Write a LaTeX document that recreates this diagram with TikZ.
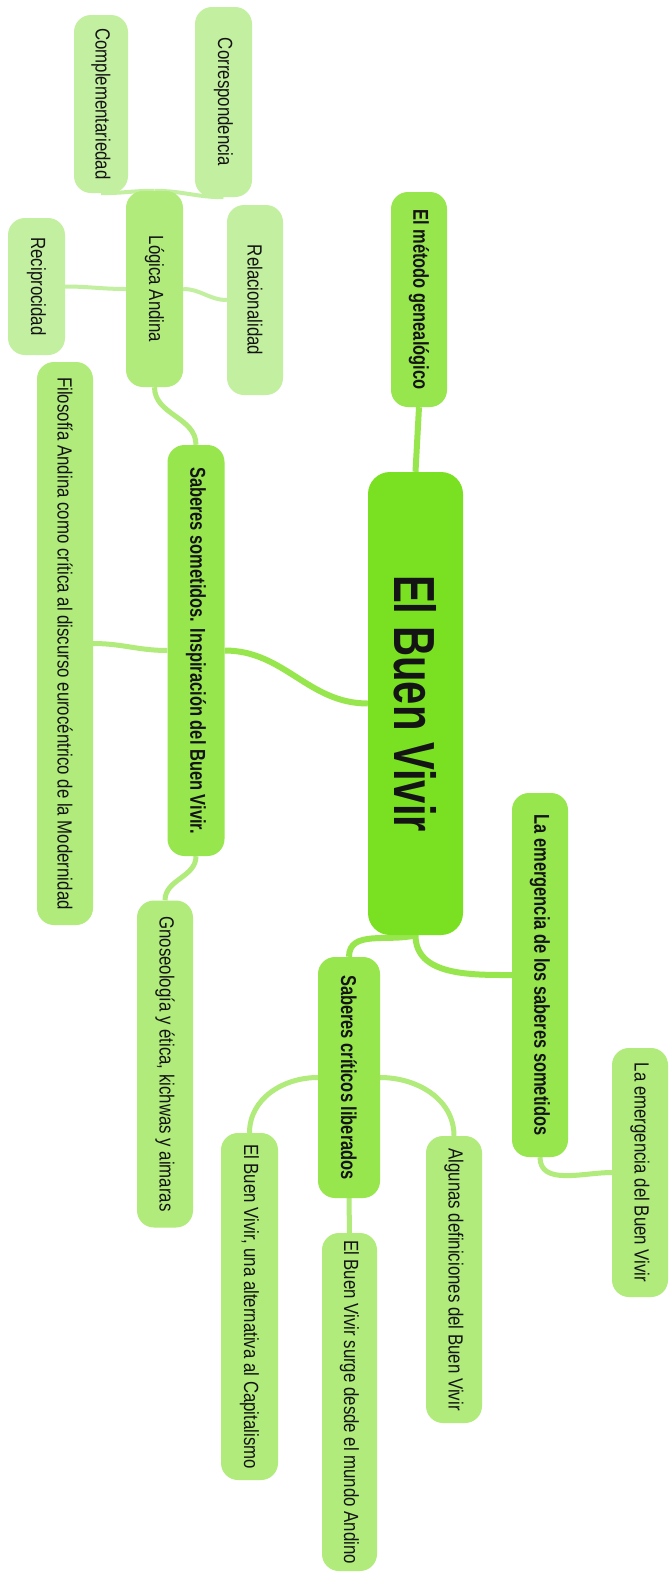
\documentclass[tikz,border=0pt]{standalone}
\usepackage{fontspec}
\usepackage{graphicx}
\usetikzlibrary{backgrounds}
\setmainfont{Liberation Sans}
\newfontfamily\smallf[FakeStretch=0.82]{Liberation Sans}
\newfontfamily\midf[FakeStretch=0.765]{Liberation Sans}
\newfontfamily\bigf[FakeStretch=0.72]{Liberation Sans}
\definecolor{cen}{HTML}{7AE022}
\definecolor{lone}{HTML}{97E64E}
\definecolor{ltwo}{HTML}{B0EB7B}
\definecolor{lthree}{HTML}{C3F0A0}
\definecolor{ink}{HTML}{141414}
\tikzset{
  box/.style={rounded corners=17pt, inner sep=0pt, text=ink},
  cennode/.style={box, fill=cen, rounded corners=22pt, font={\bigf\bfseries\fontsize{58}{60}\selectfont}},
  onenode/.style={box, fill=lone, font={\midf\bfseries\fontsize{21.5}{24}\selectfont}},
  twonode/.style={box, fill=ltwo, font={\smallf\fontsize{20.5}{24}\selectfont}},
  threenode/.style={box, fill=lthree, font={\smallf\fontsize{20.5}{24}\selectfont}},
  oneedge/.style={draw=lone, line width=6pt},
  twoedge/.style={draw=ltwo, line width=5pt},
  threeedge/.style={draw=lthree, line width=4pt}
}
\begin{document}
\begin{tikzpicture}[x=1pt,y=-1pt]
\useasboundingbox (0,0) rectangle (670,1572);
% central
\node[cennode, minimum width=95pt, minimum height=463pt] (central) at (415.5,703.5) {\rotatebox{-90}{El Buen Vivir}};
% level 1
\node[onenode, minimum width=56pt, minimum height=215pt] (metodo) at (419,299.5) {\rotatebox{-90}{El método genealógico}};
\node[onenode, minimum width=57pt, minimum height=411pt] (sometidos) at (196,650.5) {\rotatebox{-90}{Saberes sometidos. Inspiración del Buen Vivir.}};
\node[onenode, minimum width=56pt, minimum height=364pt] (emerg) at (540,975) {\rotatebox{-90}{La emergencia de los saberes sometidos}};
\node[onenode, minimum width=62pt, minimum height=241pt] (criticos) at (349,1077.5) {\rotatebox{-90}{Saberes críticos liberados}};
% level 2
\node[twonode, minimum width=57pt, minimum height=196pt] (logica) at (154.5,289) {\rotatebox{-90}{Lógica Andina}};
\node[twonode, minimum width=56pt, minimum height=563pt] (filosofia) at (65,643.5) {\rotatebox{-90}{Filosofía Andina como crítica al discurso eurocéntrico de la Modernidad}};
\node[twonode, minimum width=56pt, minimum height=327pt] (gnos) at (165,1064) {\rotatebox{-90}{Gnoseología y ética, kichwas y aimaras}};
\node[twonode, minimum width=56pt, minimum height=249pt] (embv) at (640,1172.5) {\rotatebox{-90}{La emergencia del Buen Vivir}};
\node[twonode, minimum width=56pt, minimum height=287pt] (algunas) at (454,1279.5) {\rotatebox{-90}{Algunas definiciones del Buen Vivir}};
\node[twonode, minimum width=57pt, minimum height=347pt] (alternativa) at (249.5,1306.5) {\rotatebox{-90}{El Buen Vivir, una alternativa al Capitalismo}};
\node[twonode, minimum width=55pt, minimum height=338pt] (surge) at (349.5,1402) {\rotatebox{-90}{El Buen Vivir surge desde el mundo Andino}};
% level 3
\node[threenode, minimum width=54pt, minimum height=178pt] (comp) at (101,104) {\rotatebox{-90}{Complementariedad}};
\node[threenode, minimum width=57pt, minimum height=190pt] (corr) at (223.5,102) {\rotatebox{-90}{Correspondencia}};
\node[threenode, minimum width=56pt, minimum height=190pt] (relac) at (255,300) {\rotatebox{-90}{Relacionalidad}};
\node[threenode, minimum width=57pt, minimum height=137pt] (recip) at (36.5,286.5) {\rotatebox{-90}{Reciprocidad}};
% connectors
\begin{scope}[on background layer]
\fill[white] (0,0) rectangle (670,1572);
\draw[oneedge] (central.north) -- (metodo.south);
\draw[oneedge] (central.west) to[out=180,in=0] (sometidos.east);
\draw[oneedge] (central.south) to[out=-90,in=180] (emerg.west);
\draw[oneedge] (central.south) to[out=195,in=90] (criticos.north);
\draw[twoedge] (sometidos.north) to[out=90,in=-90] (logica.south);
\draw[twoedge] (sometidos.west) to[out=180,in=0] (filosofia.east);
\draw[twoedge] (sometidos.south) to[out=-90,in=90] (gnos.north);
\draw[twoedge] (emerg.south) to[out=-90,in=180] (embv.west);
\draw[twoedge] (criticos.east) to[out=0,in=90] (algunas.north);
\draw[twoedge] (criticos.west) to[out=180,in=90] (alternativa.north);
\draw[twoedge] (criticos.south) -- (surge.north);
\draw[threeedge] (logica.north) to[out=180,in=0] (comp.south);
\draw[threeedge] (logica.north) to[out=0,in=180] (corr.south);
\draw[threeedge] (logica.west) to[out=180,in=0] (recip.east);
\draw[threeedge] (logica.east) to[out=0,in=180] (relac.west);
\end{scope}
\end{tikzpicture}
\end{document}
